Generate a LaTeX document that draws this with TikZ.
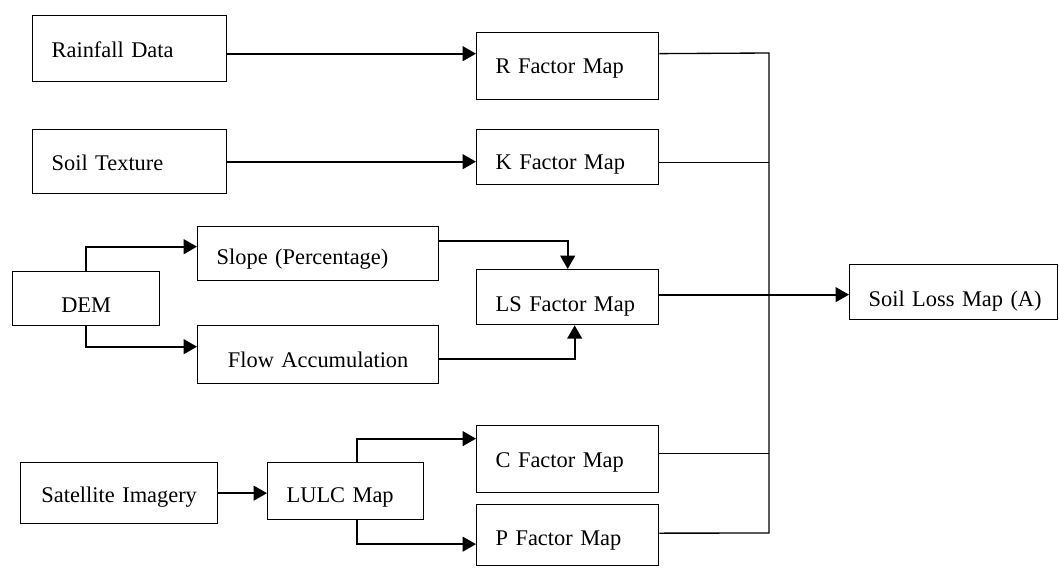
\documentclass[tikz,border=0pt]{standalone}
\usepackage{fontspec}
\setmainfont{Liberation Serif}
\usetikzlibrary{arrows.meta}

\begin{document}
\begin{tikzpicture}[x=0.75pt,y=-0.75pt,
    font=\fontsize{16.8}{20}\selectfont,
    box/.style={draw, line width=1pt, anchor=north west, inner xsep=14.25pt,
        inner ysep=0pt, align=left, text height=11pt, text depth=0pt},
    link/.style={line width=1pt},
    arr/.style={line width=1.5pt, -{Triangle[length=10pt,width=11pt]}}]
    \useasboundingbox (0,0) rectangle (1059,567);

    % inputs
    \node[box, text width=117pt, minimum height=49.5pt, text height=13.2pt] (rain) at (32,15) {Rainfall Data};
    \node[box, text width=117pt, minimum height=48pt, text height=13.2pt] (soil) at (32,129) {Soil Texture};
    \node[box, text width=81.75pt, minimum height=40.5pt, text height=20.8pt, align=center] (dem) at (12,271) {DEM};
    \node[box, text width=119.25pt, minimum height=45.75pt, text height=14pt, align=center] (sat) at (20,462) {Satellite Imagery};

    % intermediate layers
    \node[box, text width=152.25pt, minimum height=40.5pt, text height=15.5pt] (slope) at (197,226) {Slope (Percentage)};
    \node[box, text width=152.25pt, minimum height=43.5pt, text height=18.5pt, align=center] (flow) at (197,325) {Flow Accumulation};
    \node[box, text width=88.5pt, minimum height=42.75pt, text height=17pt] (lulc) at (267,462) {LULC Map};

    % factor maps
    \node[box, text width=108pt, minimum height=50.25pt] (R) at (476,32) {R Factor Map};
    \node[box, text width=108pt, minimum height=41.25pt, text height=19.2pt] (K) at (476,129) {K Factor Map};
    \node[box, text width=108pt, minimum height=41.25pt, text height=20.8pt] (LS) at (476,269) {LS Factor Map};
    \node[box, text width=108pt, minimum height=50.25pt, text height=12.5pt] (C) at (476,425) {C Factor Map};
    \node[box, text width=108pt, minimum height=45.75pt, text height=14.8pt] (P) at (476,504) {P Factor Map};

    % output
    \node[box, text width=127.5pt, minimum height=41.25pt, text height=21.5pt] (loss) at (849,264) {\mbox{Soil Loss Map (A)}};

    \coordinate (bus) at (769,53);
    \coordinate (busend) at (769,533);

    % arrows into the factor maps
    \draw[arr] ([yshift=-3.75pt]rain.east) -- ([yshift=-3.75pt]rain.east -| R.west);
    \draw[arr] (soil.east) -- (soil.east -| K.west);
    \draw[arr] (dem.north) |- ([yshift=5.25pt]slope.west);
    \draw[arr] (dem.south) |- ([yshift=6pt]flow.west);
    \draw[arr] ([yshift=9.75pt]slope.east) -| (LS.north);
    \draw[arr] ([yshift=-3pt]flow.east) -| ([xshift=5.25pt]LS.south);
    \draw[arr] (sat.east) -- (sat.east -| lulc.west);
    \draw[arr] ([xshift=8.25pt]lulc.north) |- ([yshift=15.4pt]C.west);
    \draw[arr] ([xshift=8.25pt]lulc.south) |- ([yshift=-6.75pt]P.west);

    % collecting line
    \draw[link] ([yshift=9.4pt]R.east) -- (bus) -- (busend) -- ([yshift=1.5pt]P.east);
    \draw[link] ([yshift=-4.1pt]K.east) -- ([yshift=-4.1pt]K.east -| bus);
    \draw[link] ([yshift=4.1pt]C.east) -- ([yshift=4.1pt]C.east -| bus);
    \draw[arr] ([yshift=1.9pt]LS.east) -- ([yshift=1.9pt]LS.east -| loss.west);
\end{tikzpicture}
\end{document}
